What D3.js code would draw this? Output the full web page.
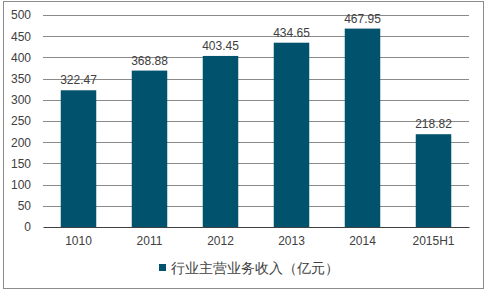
<!DOCTYPE html>
<html>
<head>
<meta charset="utf-8">
<script src="https://d3js.org/d3.v7.min.js"></script>
<style>
  body { margin: 0; background: #fff; }
  text { font-family: "Liberation Sans", Arial, sans-serif; }
</style>
</head>
<body>
<div id="chart"></div>
<script>
// chart data
var years = ["1010", "2011", "2012", "2013", "2014", "2015H1"];
var revenue = [322.47, 368.88, 403.45, 434.65, 467.95, 218.82];
var yTicks = [0, 50, 100, 150, 200, 250, 300, 350, 400, 450, 500];
var seriesName = "行业主营业务收入（亿元）";

var W = 487, H = 292;
var margin = {top: 15, right: 18, bottom: 65, left: 43};
var width = W - margin.left - margin.right;
var height = H - margin.top - margin.bottom;

var svg = d3.select("#chart").append("svg")
    .attr("width", W)
    .attr("height", H);

// outer frame
svg.append("rect")
    .attr("x", 3.5).attr("y", 1.5)
    .attr("width", 480).attr("height", 287)
    .attr("fill", "none")
    .attr("stroke", "#8c8c8c")
    .attr("stroke-width", 1);

var g = svg.append("g")
    .attr("transform", "translate(" + margin.left + "," + margin.top + ")");

var x = d3.scaleBand().domain(years).range([0, width]).paddingInner(0.5).paddingOuter(0.25);
var y = d3.scaleLinear().domain([0, 500]).range([height, 0]);

// gridlines
g.selectAll(".grid")
    .data(yTicks.slice(1))
    .enter().append("line")
    .attr("class", "grid")
    .attr("x1", 0).attr("x2", width)
    .attr("y1", function(d) { return Math.round(y(d)) + 0.5; })
    .attr("y2", function(d) { return Math.round(y(d)) + 0.5; })
    .attr("stroke", "#8a8a8a")
    .attr("stroke-width", 1);

// y axis labels
var yAxis = g.append("g")
    .call(d3.axisLeft(y).tickValues(yTicks).tickSize(0).tickPadding(12));
yAxis.select(".domain").remove();
yAxis.selectAll("text")
    .attr("fill", "#404040")
    .style("font-size", "12px");

// bars
g.selectAll(".bar")
    .data(revenue)
    .enter().append("rect")
    .attr("class", "bar")
    .attr("x", function(d, i) { return x(years[i]); })
    .attr("width", x.bandwidth())
    .attr("y", function(d) { return y(d); })
    .attr("height", function(d) { return height - y(d); })
    .attr("fill", "#01526d");

// value labels
g.selectAll(".val")
    .data(revenue)
    .enter().append("text")
    .attr("class", "val")
    .attr("x", function(d, i) { return x(years[i]) + x.bandwidth() / 2; })
    .attr("y", function(d) { return y(d) - 6; })
    .attr("text-anchor", "middle")
    .attr("fill", "#404040")
    .style("font-size", "12px")
    .text(function(d) { return d.toFixed(2); });

// x axis
var xAxis = g.append("g")
    .attr("transform", "translate(0," + height + ")")
    .call(d3.axisBottom(x).tickSize(0).tickPadding(9));
xAxis.select(".domain").attr("stroke", "#404040");
xAxis.selectAll("text")
    .attr("fill", "#404040")
    .style("font-size", "12px");

// legend
var legend = svg.append("g").attr("transform", "translate(159,268)");
legend.append("rect")
    .attr("x", 0).attr("y", -4)
    .attr("width", 7).attr("height", 7)
    .attr("fill", "#01526d");
legend.append("text")
    .attr("x", 12).attr("y", 0)
    .attr("dy", "0.35em")
    .attr("fill", "#404040")
    .style("font-size", "13.5px")
    .text(seriesName);
</script>
</body>
</html>
